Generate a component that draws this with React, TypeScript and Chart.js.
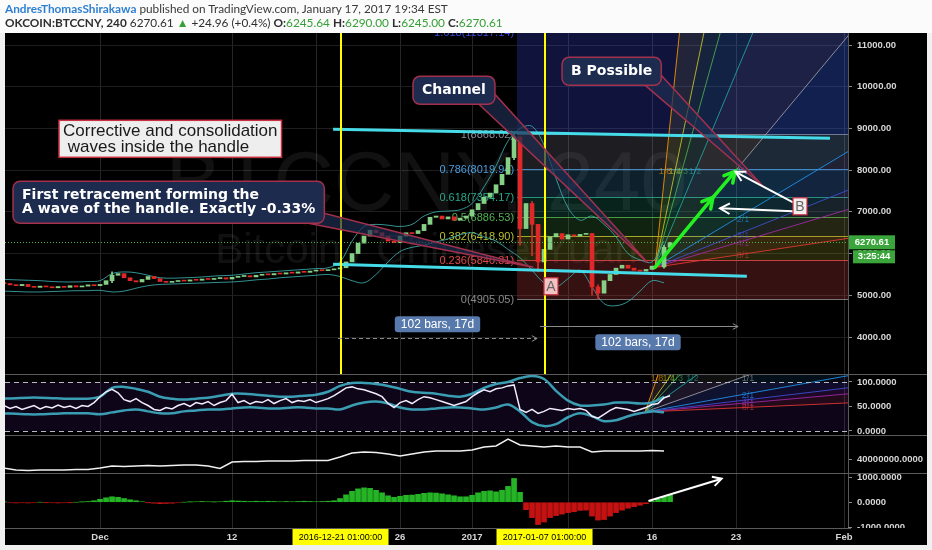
import React, { useEffect, useRef } from "react";
import { Chart, registerables } from "chart.js";

Chart.register(...registerables);

/* ---------------- header texts ---------------- */
const AUTHOR = "AndresThomasShirakawa";
const PUBLISHED = " published on TradingView.com, January 17, 2017 19:34 EST";
const SYMBOL = "OKCOIN:BTCCNY, 240";
const LAST_PRICE = 6270.61;
const CHANGE = "+24.96 (+0.4%)";
const OHLC_LABELS = ["O:", "H:", "L:", "C:"];
const OHLC_VALUES = ["6245.64", "6290.00", "6245.00", "6270.61"];
const COUNTDOWN = "3:25:44";
const WATERMARK = ["BTCCNY, 240", "Bitcoin / Chinese Yuan"];

/* ---------------- time axis (days since 2016-12-01 00:00) ---------------- */
const X_MIN = -7.92;
const X_MAX = 62.33;
const X_TICKS = [0, 11, 18, 25, 31, 39, 46, 53, 62];
const X_TICK_LABELS = ["Dec", "12", "", "26", "2017", "", "16", "23", "Feb"];
const MARKED_DAYS = [20.04, 37.04];
const MARKED_LABELS = ["2016-12-21 01:00:00", "2017-01-07 01:00:00"];

/* ---------------- price candles (12h resolution) ---------------- */
const BAR_START_DAY = -8;
const BAR_STEP_DAYS = 0.5;
const FIRST_OPEN = 5300;
const CLOSES = [
  5280, 5250, 5230, 5260, 5210, 5190, 5220, 5200, 5180, 5210, 5190, 5230, 5200, 5220, 5250, 5230, 5260,
  5350, 5480, 5520, 5420,
  5350, 5320, 5380, 5450, 5400, 5330,
  5310, 5330, 5350, 5340, 5370, 5360, 5390, 5380, 5400, 5420, 5390, 5430,
  5450, 5470, 5440, 5480, 5500, 5490, 5520, 5510, 5540, 5530, 5560, 5550, 5580, 5600, 5590, 5610, 5630,
  5660, 5800, 6000, 6250, 6420, 6560, 6500, 6420, 6300, 6260, 6420, 6500, 6480, 6550, 6700, 6870, 6900,
  6830, 6880, 6800, 6850, 6900, 7050, 7200, 7350, 7450, 7650, 7900, 8300, 8800, 6600, 7200, 6700, 5800,
  6100, 6400, 6480, 6350, 6450, 6420, 6460, 6480, 5200, 5050, 5350, 5500, 5650, 5720, 5650, 5600, 5580,
  5620, 5700, 5680, 6150, 6270,
];
// [bar index, low, high]
const WICKS = [
  [85, 8250, 8868], [86, 6200, 8800], [88, 5950, 7250], [89, 5560, 6700],
  [98, 5000, 6480], [99, 4905, 5250], [110, 5650, 6200], [18, 5300, 5560],
];

/* ---------------- bands / indicators ---------------- */
const BAND_START_DAY = -8;
const BAND_STEP_DAYS = 1;
const PRICE_BB_UPPER = [
  5380, 5370, 5360, 5350, 5330, 5320, 5320, 5330,
  5350, 5520, 5560, 5540, 5480, 5420, 5410, 5420, 5430, 5450,
  5470, 5480, 5510, 5540, 5560, 5580, 5600, 5620, 5640, 5660,
  5800, 6300, 6650, 6700, 6680, 6650, 6700, 6900, 7000, 7020,
  7050, 7200, 7600, 8100, 8700, 9000, 9050, 8600, 7800, 7100,
  6800, 6900, 6700, 6400, 6000, 5850, 5800, 6300,
];
const PRICE_BB_LOWER = [
  5100, 5090, 5080, 5080, 5090, 5100, 5110, 5110,
  5120, 5080, 5100, 5170, 5230, 5260, 5270, 5280, 5290, 5300,
  5310, 5320, 5340, 5370, 5390, 5420, 5440, 5460, 5480, 5500,
  5450, 5350, 5300, 5500, 5800, 6050, 6150, 6200, 6280, 6350,
  6450, 6500, 6400, 6300, 6100, 5900, 5600, 5300, 5200, 5400,
  5600, 5200, 4800, 4750, 4850, 5100, 5350, 5300,
];
const RSI = [
  52, 46, 50, 44, 48, 52, 45, 50, 47, 53, 48, 51, 46, 52, 50,
  58, 70, 80, 85, 78, 64, 60, 66, 58, 52, 44, 42, 48, 45, 52, 56, 50, 58, 55, 60, 52, 58, 62, 75, 58,
  62, 55, 60, 58, 64, 56, 62, 66, 58, 62, 60, 64, 58, 62, 66, 72, 80, 88, 90, 86, 84, 80, 76, 70, 56,
  48, 58, 62, 56, 64, 70, 68, 64, 60, 56, 52, 56, 60, 70, 78, 84, 80, 86, 88, 92, 94, 44, 38, 44, 36,
  40, 46, 44, 42, 46, 44, 46, 42, 30, 26, 34, 42, 48, 46, 44, 40, 44, 48, 54, 56, 68, 72,
];
const RSI_BB_UPPER = [
  66, 67, 68, 68, 67, 66, 66, 66,
  70, 88, 90, 86, 80, 70, 66, 64, 66, 68,
  72, 76, 76, 74, 72, 70, 70, 72, 74, 80,
  92, 98, 98, 96, 92, 86, 80, 78, 76, 72,
  70, 76, 88, 96, 100, 108, 112, 106, 82, 62,
  52, 52, 54, 58, 58, 56, 58, 70,
];
const RSI_BB_LOWER = [
  36, 35, 34, 34, 35, 36, 36, 36,
  34, 38, 42, 44, 40, 36, 36, 40, 42, 44,
  44, 46, 48, 48, 46, 46, 48, 48, 46, 46,
  44, 52, 58, 60, 56, 48, 44, 44, 46, 48,
  48, 46, 44, 48, 54, 40, 18, 10, 14, 28,
  36, 30, 20, 22, 30, 36, 40, 38,
];
// millions
const VOL_LINE = [
  31, 29, 28.5, 29, 29, 29, 29.5, 29.5,
  31, 33, 32.5, 33, 33.5, 33, 33.5, 34, 34, 33,
  30.5, 37, 37.5, 37.5, 38, 38, 38, 38.5, 38.5, 38.5,
  42, 46, 47, 46.5, 45, 43, 45, 47, 48, 48,
  48, 49, 52, 53, 60, 54, 53, 52, 53, 52,
  52, 47, 48, 48, 48, 48, 48.5, 48,
];
const MACD_HIST = [
  10, -20, -30, -20, -30, -20, 0, -10, -20, -30, -20, -10, 0, 10, 30,
  60, 120, 180, 220, 200, 150, 100, 60, 20, -10, -40, -60, -50, -40, -20, 0, 10, 20, 30, 20, 10,
  20, 40, 60, 50, 40, 30, 40, 30, 40, 30, 20, 30, 20, 30, 40, 30, 20, 30, 40, 60, 150, 300, 440,
  540, 580, 560, 480, 380, 260, 200, 240, 280, 290, 320, 360, 380, 370, 340, 300, 260, 220, 220,
  280, 380, 440, 460, 420, 480, 640, 960, 400, -300, -620, -900, -800, -620, -540, -480, -420,
  -380, -330, -320, -560, -720, -700, -560, -420, -320, -240, -180, -120, -60, 40, 120, 220, 280,
];

/* ---------------- axes ---------------- */
const PRICE_MIN = 3113, PRICE_MAX = 11288;
const PRICE_TICKS = [4000, 5000, 6000, 7000, 8000, 9000, 10000, 11000];
const RSI_MIN = -8.2, RSI_MAX = 116.3;
const RSI_TICKS = [0, 50, 100];
const VOL_MIN = 26, VOL_MAX = 64;
const VOL_TICKS = [40];
const MACD_MIN = -1040, MACD_MAX = 1180;
const MACD_TICKS = [0, 1000];
const MACD_CUT_TICK = -1000;

/* ---------------- drawings ---------------- */
const FIB_LOW = 4905.05;
const FIB_HIGH = 8868.02;
const FIB_START_DAY = 34.75;
const FIB_LEVELS = [0, 0.236, 0.382, 0.5, 0.618, 0.786, 1, 1.618];
const FIB_COLORS = ["#8a8a8a", "#e04848", "#b8c030", "#52b152", "#2aa88a", "#4a9ee0", "#8a8a9a", "#3848d8"];
const FIB_FILL_ALPHA = [0, 0.24, 0.2, 0.2, 0.2, 0.2, 0.22, 0.28];

const GANN_RATIOS = [
  { label: "1/8", k: 8, color: "#ff9800" },
  { label: "1/4", k: 4, color: "#c8c82a" },
  { label: "1/3", k: 3, color: "#4caf50" },
  { label: "1/2", k: 2, color: "#26a6a0" },
  { label: "1/1", k: 1, color: "#a0a0a8" },
  { label: "2/1", k: 1 / 2, color: "#2196f3" },
  { label: "3/1", k: 1 / 3, color: "#3f51d5" },
  { label: "4/1", k: 1 / 4, color: "#a42aa8" },
  { label: "8/1", k: 1 / 8, color: "#e53935" },
];
const GANN_PRICE = { originDay: 46.25, originValue: 5671, cornerDay: 52.92, cornerValue: 7972 };
const GANN_RSI = { originDay: 45.42, originValue: 38.8, cornerDay: 53.33, cornerValue: 108 };

const CHANNEL_TOP = [[19.42, 8979], [60.83, 8763]];
const CHANNEL_BOTTOM = [[19.42, 5743], [53.9, 5455]];

const NOTE = { lines: ["Corrective and consolidation", " waves inside the handle"], day: -3.42, price: 9195 };
const CALLOUTS = [
  { lines: ["First retracement forming the", "A wave of the handle. Exactly -0.33%"], day: -7.25, price: 7733, tipDay: 36.1, tipPrice: 5671 },
  { lines: ["Channel"], day: 26.08, price: 10250, tipDay: 45.6, tipPrice: 5790 },
  { lines: ["B Possible"], day: 38.5, price: 10705, tipDay: 55.25, tipPrice: 7613 },
];
const LETTER_MARKS = [
  { text: "A", day: 37.58, price: 5216, fill: "#f3c2c2" },
  { text: "B", day: 58.33, price: 7133, fill: "#f6eeee" },
];
const GREEN_ARROW = [[46.25, 5671], [51.08, 7349], [52.92, 7972]];
const WHITE_ARROWS = [
  { from: [57.75, 7229], to: [52.95, 7960] },
  { from: [57.75, 7013], to: [51.67, 7085] },
];
const RANGES = [
  { fromDay: 19.83, toDay: 36.42, price: 3969, dashed: true, label: "102 bars, 17d", labelDay: 28.12, labelPrice: 4305 },
  { fromDay: 36.67, toDay: 53.17, price: 4257, dashed: false, label: "102 bars, 17d", labelDay: 44.83, labelPrice: 3873 },
];
const MACD_ARROW = { from: [45.7, 50], to: [51.8, 950] };

/* ---------------- helpers ---------------- */
const UP = "#86d086";
const DOWN = "#e02828";
const barDay = (i: number) => BAR_START_DAY + i * BAR_STEP_DAYS;
const bandDay = (i: number) => BAND_START_DAY + i * BAND_STEP_DAYS;
const OPENS = CLOSES.map((c, i) => (i === 0 ? FIRST_OPEN : CLOSES[i - 1]));

function hexA(hex: string, a: number) {
  const n = parseInt(hex.slice(1), 16);
  return `rgba(${(n >> 16) & 255},${(n >> 8) & 255},${n & 255},${a})`;
}
function P(chart: any, day: number, v: number, axis = "yPrice"): [number, number] {
  return [chart.scales.x.getPixelForValue(day), chart.scales[axis].getPixelForValue(v)];
}
function clipPane(ctx: CanvasRenderingContext2D, chart: any, axis: string) {
  const a = chart.chartArea;
  const s = chart.scales[axis];
  ctx.save();
  ctx.beginPath();
  ctx.rect(a.left, s.top, a.right - a.left, s.bottom - s.top);
  ctx.clip();
}
function chevron(ctx: CanvasRenderingContext2D, fx: number, fy: number, tx: number, ty: number, len: number) {
  const ang = Math.atan2(ty - fy, tx - fx);
  ctx.beginPath();
  ctx.moveTo(tx - len * Math.cos(ang - 0.5), ty - len * Math.sin(ang - 0.5));
  ctx.lineTo(tx, ty);
  ctx.lineTo(tx - len * Math.cos(ang + 0.5), ty - len * Math.sin(ang + 0.5));
  ctx.stroke();
}
function rrect(ctx: CanvasRenderingContext2D, x: number, y: number, w: number, h: number, r: number) {
  ctx.beginPath();
  ctx.moveTo(x + r, y);
  ctx.arcTo(x + w, y, x + w, y + h, r);
  ctx.arcTo(x + w, y + h, x, y + h, r);
  ctx.arcTo(x, y + h, x, y, r);
  ctx.arcTo(x, y, x + w, y, r);
  ctx.closePath();
}

function drawFib(ctx: CanvasRenderingContext2D, chart: any) {
  const a = chart.chartArea;
  const y = chart.scales.yPrice;
  const x0 = chart.scales.x.getPixelForValue(FIB_START_DAY);
  const prices = FIB_LEVELS.map((l) => FIB_LOW + l * (FIB_HIGH - FIB_LOW));
  for (let k = 1; k < prices.length; k++) {
    const y0 = y.getPixelForValue(prices[k - 1]);
    const y1 = y.getPixelForValue(prices[k]);
    ctx.fillStyle = hexA(FIB_COLORS[k], FIB_FILL_ALPHA[k]);
    ctx.fillRect(x0, y1, a.right - x0, y0 - y1);
  }
  ctx.lineWidth = 1;
  ctx.font = '11px "Liberation Sans", Arial';
  ctx.textAlign = "right";
  ctx.textBaseline = "middle";
  prices.forEach((p, k) => {
    const py = Math.round(y.getPixelForValue(p)) + 0.5;
    ctx.strokeStyle = hexA(FIB_COLORS[k], 0.85);
    ctx.beginPath();
    ctx.moveTo(x0, py);
    ctx.lineTo(a.right, py);
    ctx.stroke();
    ctx.fillStyle = FIB_COLORS[k];
    ctx.fillText(`${FIB_LEVELS[k]}(${p.toFixed(2)})`, x0 - 3, py);
  });
}

function drawGann(ctx: CanvasRenderingContext2D, chart: any, axis: string, g: any) {
  const [ox, oy] = P(chart, g.originDay, g.originValue, axis);
  const slope = (g.cornerValue - g.originValue) / (g.cornerDay - g.originDay);
  const span = 60;
  const ends = GANN_RATIOS.map((r) => P(chart, g.originDay + span, g.originValue + slope * r.k * span, axis));
  for (let i = 0; i < ends.length - 1; i++) {
    ctx.beginPath();
    ctx.moveTo(ox, oy);
    ctx.lineTo(ends[i][0], ends[i][1]);
    ctx.lineTo(ends[i + 1][0], ends[i + 1][1]);
    ctx.closePath();
    ctx.fillStyle = hexA(GANN_RATIOS[i + 1].color, 0.1);
    ctx.fill();
  }
  ctx.lineWidth = 1;
  ends.forEach((e, i) => {
    ctx.strokeStyle = hexA(GANN_RATIOS[i].color, 0.85);
    ctx.beginPath();
    ctx.moveTo(ox, oy);
    ctx.lineTo(e[0], e[1]);
    ctx.stroke();
  });
  ctx.font = '9px "Liberation Sans", Arial';
  ctx.textAlign = "center";
  ctx.textBaseline = "middle";
  const dd = g.cornerDay - g.originDay;
  const dv = g.cornerValue - g.originValue;
  GANN_RATIOS.forEach((r) => {
    const p = r.k > 1
      ? P(chart, g.originDay + dd / r.k, g.cornerValue, axis)
      : P(chart, g.cornerDay, g.originValue + dv * r.k, axis);
    ctx.fillStyle = hexA(r.color, 0.6);
    ctx.fillText(r.label, p[0] + (r.k > 1 ? 0 : 8), p[1]);
  });
}

const overlay = {
  id: "overlay",
  beforeDraw(chart: any) {
    const { ctx, chartArea: a } = chart;
    ctx.save();
    ctx.fillStyle = "#000";
    ctx.fillRect(a.left, a.top, chart.width - 5 - a.left, chart.height - 5 - a.top);
    ctx.restore();
  },
  beforeDatasetsDraw(chart: any) {
    const { ctx, chartArea: a, scales } = chart;
    const yP = scales.yPrice;
    const yR = scales.yRsi;
    clipPane(ctx, chart, "yPrice");
    ctx.fillStyle = "rgba(255,255,255,0.065)";
    ctx.textAlign = "center";
    ctx.textBaseline = "middle";
    const cx = (a.left + a.right) / 2;
    ctx.font = '84px "Liberation Sans", Arial';
    ctx.fillText(WATERMARK[0], cx, yP.top + (yP.bottom - yP.top) * 0.45);
    ctx.font = '42px "Liberation Sans", Arial';
    ctx.fillText(WATERMARK[1], cx, yP.top + (yP.bottom - yP.top) * 0.64);
    drawFib(ctx, chart);
    drawGann(ctx, chart, "yPrice", GANN_PRICE);
    ctx.restore();
    clipPane(ctx, chart, "yRsi");
    const r100 = yR.getPixelForValue(100);
    const r0 = yR.getPixelForValue(0);
    ctx.fillStyle = "rgba(110,40,190,0.13)";
    ctx.fillRect(a.left, r100, a.right - a.left, r0 - r100);
    drawGann(ctx, chart, "yRsi", GANN_RSI);
    ctx.strokeStyle = "#b8b8c0";
    ctx.lineWidth = 1;
    ctx.setLineDash([5, 4]);
    [r100, r0].forEach((py) => {
      ctx.beginPath();
      ctx.moveTo(a.left, Math.round(py) + 0.5);
      ctx.lineTo(a.right, Math.round(py) + 0.5);
      ctx.stroke();
    });
    ctx.setLineDash([]);
    ctx.restore();
  },
  afterDatasetsDraw(chart: any) {
    const { ctx, chartArea: a, scales } = chart;
    const x = scales.x;
    const yP = scales.yPrice;
    clipPane(ctx, chart, "yPrice");
    const lp = Math.round(yP.getPixelForValue(LAST_PRICE)) + 0.5;
    ctx.strokeStyle = "#4caf50";
    ctx.lineWidth = 1;
    ctx.setLineDash([1, 2]);
    ctx.beginPath();
    ctx.moveTo(a.left, lp);
    ctx.lineTo(a.right, lp);
    ctx.stroke();
    ctx.setLineDash([]);
    ctx.strokeStyle = "#45dbe8";
    ctx.lineWidth = 3;
    [CHANNEL_TOP, CHANNEL_BOTTOM].forEach((ln) => {
      const p0 = P(chart, ln[0][0], ln[0][1]);
      const p1 = P(chart, ln[1][0], ln[1][1]);
      ctx.beginPath();
      ctx.moveTo(p0[0], p0[1]);
      ctx.lineTo(p1[0], p1[1]);
      ctx.stroke();
    });
    ctx.strokeStyle = "#ffff00";
    ctx.lineWidth = 2;
    MARKED_DAYS.forEach((d) => {
      const px = Math.round(x.getPixelForValue(d));
      ctx.beginPath();
      ctx.moveTo(px, yP.top);
      ctx.lineTo(px, yP.bottom);
      ctx.stroke();
    });
    RANGES.forEach((r) => {
      const p0 = P(chart, r.fromDay, r.price);
      const p1 = P(chart, r.toDay, r.price);
      const py = Math.round(p0[1]) + 0.5;
      ctx.strokeStyle = "#8a8a8a";
      ctx.lineWidth = 1;
      ctx.setLineDash(r.dashed ? [4, 3] : []);
      ctx.beginPath();
      ctx.moveTo(p0[0], py);
      ctx.lineTo(p1[0], py);
      ctx.stroke();
      ctx.setLineDash([]);
      chevron(ctx, p0[0], py, p1[0], py, 6);
      ctx.font = '12px "Liberation Sans", Arial';
      const tw = ctx.measureText(r.label).width;
      const [lx, ly] = P(chart, r.labelDay, r.labelPrice);
      ctx.fillStyle = "rgba(92,128,180,0.95)";
      rrect(ctx, lx - tw / 2 - 6, ly - 8, tw + 12, 16, 3);
      ctx.fill();
      ctx.fillStyle = "#ffffff";
      ctx.textAlign = "center";
      ctx.textBaseline = "middle";
      ctx.fillText(r.label, lx, ly + 0.5);
    });
    ctx.strokeStyle = "#22f022";
    ctx.lineWidth = 3.5;
    ctx.lineCap = "round";
    const g = GREEN_ARROW.map((p) => P(chart, p[0], p[1]));
    ctx.beginPath();
    ctx.moveTo(g[0][0], g[0][1]);
    for (let i = 1; i < g.length; i++) ctx.lineTo(g[i][0], g[i][1]);
    ctx.stroke();
    for (let i = 1; i < g.length; i++) chevron(ctx, g[0][0], g[0][1], g[i][0], g[i][1], 12);
    ctx.lineCap = "butt";
    CALLOUTS.forEach((c) => {
      ctx.font = 'bold 14px "DejaVu Sans", Verdana';
      const w = Math.max(...c.lines.map((l) => ctx.measureText(l).width)) + 18;
      const h = c.lines.length * 14 + 14;
      const [bx, by] = P(chart, c.day, c.price);
      const [tx, ty] = P(chart, c.tipDay, c.tipPrice);
      ctx.beginPath();
      ctx.moveTo(bx + w - 16, by + h);
      ctx.lineTo(tx, ty);
      ctx.lineTo(bx + w, by + h - 10);
      ctx.closePath();
      ctx.fillStyle = "rgba(30,44,80,0.7)";
      ctx.fill();
      ctx.strokeStyle = "#a3304c";
      ctx.lineWidth = 1.5;
      ctx.stroke();
      rrect(ctx, bx, by, w, h, 7);
      ctx.fillStyle = "#1c2b4e";
      ctx.fill();
      ctx.stroke();
      ctx.fillStyle = "#ffffff";
      ctx.textAlign = "left";
      ctx.textBaseline = "middle";
      c.lines.forEach((l, i) => ctx.fillText(l, bx + 9, by + 14 + i * 14));
    });
    {
      ctx.font = '17px "Liberation Sans", Arial';
      const w = Math.max(...NOTE.lines.map((l) => ctx.measureText(l).width)) + 8;
      const h = NOTE.lines.length * 16 + 5;
      const [bx, by] = P(chart, NOTE.day, NOTE.price);
      ctx.fillStyle = "#eeeeee";
      ctx.fillRect(bx, by, w, h);
      ctx.strokeStyle = "#c83040";
      ctx.lineWidth = 1.5;
      ctx.strokeRect(bx, by, w, h);
      ctx.fillStyle = "#1a1a1a";
      ctx.textAlign = "left";
      ctx.textBaseline = "middle";
      NOTE.lines.forEach((l, i) => ctx.fillText(l, bx + 4, by + 11 + i * 16));
    }
    ctx.strokeStyle = "#ffffff";
    ctx.lineWidth = 2;
    WHITE_ARROWS.forEach((w) => {
      const f = P(chart, w.from[0], w.from[1]);
      const t = P(chart, w.to[0], w.to[1]);
      ctx.beginPath();
      ctx.moveTo(f[0], f[1]);
      ctx.lineTo(t[0], t[1]);
      ctx.stroke();
      chevron(ctx, f[0], f[1], t[0], t[1], 11);
    });
    LETTER_MARKS.forEach((m) => {
      const [mx, my] = P(chart, m.day, m.price);
      ctx.fillStyle = m.fill;
      ctx.fillRect(mx - 7, my - 8.5, 14, 17);
      ctx.strokeStyle = "#c83040";
      ctx.lineWidth = 1.2;
      ctx.strokeRect(mx - 7, my - 8.5, 14, 17);
      ctx.fillStyle = "#666";
      ctx.font = '14px "Liberation Sans", Arial';
      ctx.textAlign = "center";
      ctx.textBaseline = "middle";
      ctx.fillText(m.text, mx, my + 1);
    });
    ctx.restore();
    clipPane(ctx, chart, "yMacd");
    {
      const f = P(chart, MACD_ARROW.from[0], MACD_ARROW.from[1], "yMacd");
      const t = P(chart, MACD_ARROW.to[0], MACD_ARROW.to[1], "yMacd");
      ctx.strokeStyle = "#ffffff";
      ctx.lineWidth = 2;
      ctx.beginPath();
      ctx.moveTo(f[0], f[1]);
      ctx.lineTo(t[0], t[1]);
      ctx.stroke();
      chevron(ctx, f[0], f[1], t[0], t[1], 10);
    }
    ctx.restore();
  },
  afterDraw(chart: any) {
    const { ctx, chartArea: a, scales } = chart;
    const right = chart.width - 5;
    ctx.save();
    ctx.strokeStyle = "#5a5a5a";
    ctx.lineWidth = 1;
    ["yPrice", "yRsi", "yVol"].forEach((id) => {
      const yy = Math.round(scales[id].bottom) + 0.5;
      ctx.beginPath();
      ctx.moveTo(a.left, yy);
      ctx.lineTo(right, yy);
      ctx.stroke();
    });
    const by = Math.round(a.bottom) + 0.5;
    ctx.beginPath();
    ctx.moveTo(a.left, by);
    ctx.lineTo(a.right + 3, by);
    ctx.moveTo(Math.round(a.right) + 0.5, a.top);
    ctx.lineTo(Math.round(a.right) + 0.5, a.bottom);
    ctx.stroke();
    const lp = scales.yPrice.getPixelForValue(LAST_PRICE);
    ctx.fillStyle = "#3aa53a";
    ctx.fillRect(a.right + 1, lp - 7, 46, 14);
    ctx.fillRect(a.right + 5, lp + 8, 42, 13);
    ctx.fillStyle = "#ffffff";
    ctx.font = 'bold 9.5px "Liberation Sans", Arial';
    ctx.textAlign = "center";
    ctx.textBaseline = "middle";
    ctx.fillText(LAST_PRICE.toFixed(2), a.right + 24, lp + 0.5);
    ctx.fillText(COUNTDOWN, a.right + 26, lp + 14.5);
    const yM = scales.yMacd;
    ctx.save();
    ctx.beginPath();
    ctx.rect(a.right, yM.top, 80, yM.bottom - yM.top);
    ctx.clip();
    const cy = yM.getPixelForValue(MACD_CUT_TICK);
    ctx.strokeStyle = "#888";
    ctx.beginPath();
    ctx.moveTo(a.right, Math.round(cy) + 0.5);
    ctx.lineTo(a.right + 4, Math.round(cy) + 0.5);
    ctx.stroke();
    ctx.fillStyle = "#d6d6d6";
    ctx.textAlign = "left";
    ctx.fillText(MACD_CUT_TICK.toFixed(4), a.right + 9, cy);
    ctx.restore();
    ctx.font = '9px "Liberation Sans", Arial';
    MARKED_DAYS.forEach((d, i) => {
      const px = scales.x.getPixelForValue(d);
      ctx.fillStyle = "#ffff00";
      ctx.fillRect(px - 48, a.bottom + 1, 96, 16);
      ctx.fillStyle = "#000000";
      ctx.textAlign = "center";
      ctx.fillText(MARKED_LABELS[i], px, a.bottom + 9.5);
    });
    ctx.restore();
  },
};

function yAxis(id: string, weight: number, stackWeight: number, min: number, max: number, ticks: number[], fmt: (v: number) => string, chartGrid: boolean) {
  return {
    type: "linear",
    position: "right",
    stack: "panes",
    stackWeight,
    weight,
    min,
    max,
    beginAtZero: false,
    offset: false,
    border: { display: false },
    grid: { color: "#1e1e1e", drawOnChartArea: chartGrid, drawTicks: true, tickLength: 4, tickColor: "#888" },
    ticks: {
      autoSkip: false,
      padding: 5,
      color: "#d6d6d6",
      font: { family: '"Liberation Sans", Arial', size: 9.5, weight: "bold" },
      callback: (v: any) => fmt(Number(v)),
    },
    afterBuildTicks: (s: any) => {
      s.ticks = ticks.map((v) => ({ value: v }));
    },
    afterFit: (s: any) => {
      s.width = 78;
    },
  };
}

function buildConfig() {
  const candleColors = CLOSES.map((c, i) => (c >= OPENS[i] ? UP : DOWN));
  const datasets: any[] = [
    {
      type: "bar",
      data: WICKS.map(([i, lo, hi]) => ({ x: barDay(i), y: [lo, hi] })),
      backgroundColor: WICKS.map(([i]) => candleColors[i]),
      barThickness: 1,
      grouped: false,
      yAxisID: "yPrice",
      order: 3,
    },
    {
      type: "bar",
      data: CLOSES.map((c, i) => ({ x: barDay(i), y: [OPENS[i], c] })),
      backgroundColor: candleColors,
      barThickness: 4,
      minBarLength: 1,
      grouped: false,
      yAxisID: "yPrice",
      order: 2,
    },
    {
      type: "line",
      data: PRICE_BB_UPPER.map((v, i) => ({ x: bandDay(i), y: v })),
      borderColor: "rgba(60,170,170,0.85)",
      borderWidth: 1,
      pointRadius: 0,
      tension: 0.35,
      yAxisID: "yPrice",
      order: 4,
    },
    {
      type: "line",
      data: PRICE_BB_LOWER.map((v, i) => ({ x: bandDay(i), y: v })),
      borderColor: "rgba(60,170,170,0.85)",
      borderWidth: 1,
      pointRadius: 0,
      tension: 0.35,
      yAxisID: "yPrice",
      order: 4,
    },
    {
      type: "line",
      data: RSI_BB_UPPER.map((v, i) => ({ x: bandDay(i), y: v })),
      borderColor: "#3a9db2",
      borderWidth: 2.5,
      pointRadius: 0,
      tension: 0.35,
      yAxisID: "yRsi",
      order: 5,
    },
    {
      type: "line",
      data: RSI_BB_LOWER.map((v, i) => ({ x: bandDay(i), y: v })),
      borderColor: "#3a9db2",
      borderWidth: 2.5,
      pointRadius: 0,
      tension: 0.35,
      yAxisID: "yRsi",
      order: 5,
    },
    {
      type: "line",
      data: RSI.map((v, i) => ({ x: barDay(i), y: v })),
      borderColor: "#f2ecff",
      borderWidth: 1.5,
      pointRadius: 0,
      tension: 0,
      yAxisID: "yRsi",
      order: 1,
    },
    {
      type: "line",
      data: VOL_LINE.map((v, i) => ({ x: bandDay(i), y: v })),
      borderColor: "#f0f0f0",
      borderWidth: 1.5,
      pointRadius: 0,
      tension: 0,
      yAxisID: "yVol",
      order: 1,
    },
    {
      type: "bar",
      data: MACD_HIST.map((v, i) => ({ x: barDay(i), y: v })),
      backgroundColor: MACD_HIST.map((v) => (v >= 0 ? "#25b425" : "#c41212")),
      barThickness: 5,
      grouped: false,
      yAxisID: "yMacd",
      order: 1,
    },
  ];
  return {
    type: "bar",
    data: { datasets },
    options: {
      animation: false,
      responsive: false,
      maintainAspectRatio: false,
      events: [],
      layout: { padding: { left: 5, top: 33, right: 6, bottom: 5 } },
      plugins: { legend: { display: false }, tooltip: { enabled: false } },
      scales: {
        x: {
          type: "linear",
          position: "bottom",
          min: X_MIN,
          max: X_MAX,
          offset: false,
          border: { display: false },
          grid: { color: "#262626", drawTicks: false, offset: false },
          ticks: {
            autoSkip: false,
            maxRotation: 0,
            padding: 4,
            color: "#d6d6d6",
            font: { family: '"Liberation Sans", Arial', size: 9.5, weight: "bold" },
            callback: (v: any) => {
              const i = X_TICKS.indexOf(Number(v));
              return i >= 0 ? X_TICK_LABELS[i] : "";
            },
          },
          afterBuildTicks: (s: any) => {
            s.ticks = X_TICKS.map((v) => ({ value: v }));
          },
          afterFit: (s: any) => {
            s.height = 17;
          },
        },
        yPrice: yAxis("yPrice", 1, 341, PRICE_MIN, PRICE_MAX, PRICE_TICKS, (v) => v.toFixed(2), true),
        yRsi: yAxis("yRsi", 2, 61, RSI_MIN, RSI_MAX, RSI_TICKS, (v) => v.toFixed(4), false),
        yVol: yAxis("yVol", 3, 38, VOL_MIN, VOL_MAX, VOL_TICKS, (v) => (v * 1e6).toFixed(4), false),
        yMacd: yAxis("yMacd", 4, 55, MACD_MIN, MACD_MAX, MACD_TICKS, (v) => v.toFixed(4), false),
      },
    },
    plugins: [overlay],
  };
}

export default function App() {
  const ref = useRef<HTMLCanvasElement>(null);
  useEffect(() => {
    const chart = new Chart(ref.current as HTMLCanvasElement, buildConfig() as any);
    return () => chart.destroy();
  }, []);
  const green = "#35a035";
  const dark = "#2e2e2e";
  return (
    <div style={{ position: "fixed", left: 0, top: 0, width: 932, height: 550, background: "#f0f0f0", overflow: "hidden" }}>
      <div style={{ position: "absolute", left: 0, top: 0, width: 932, height: 33, background: "#fbfbfb" }} />
      <canvas ref={ref} width={932} height={550} style={{ position: "absolute", left: 0, top: 0 }} />
      <div style={{ position: "absolute", left: 5, top: 2, font: '11.8px Lato, "Open Sans", sans-serif', lineHeight: "14px", whiteSpace: "pre" }}>
        <div>
          <span style={{ color: "#2f80d2", fontWeight: 700 }}>{AUTHOR}</span>
          <span style={{ color: "#3a3a3a" }}>{PUBLISHED}</span>
        </div>
        <div style={{ color: dark }}>
          <span style={{ fontWeight: 700 }}>{SYMBOL}</span>
          <span>{" " + LAST_PRICE.toFixed(2) + " "}</span>
          <span style={{ color: green }}>▲</span>
          <span>{" " + CHANGE + " "}</span>
          {OHLC_LABELS.map((l, i) => (
            <span key={l}>
              <span style={{ fontWeight: 700 }}>{l}</span>
              <span style={{ color: green }}>{OHLC_VALUES[i] + " "}</span>
            </span>
          ))}
        </div>
      </div>
    </div>
  );
}
